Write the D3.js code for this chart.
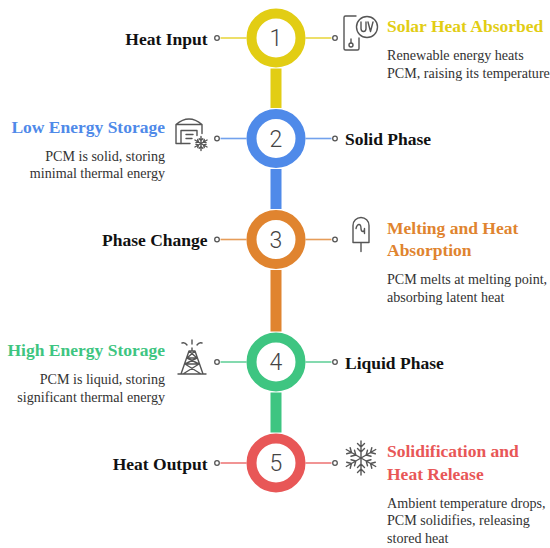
<!DOCTYPE html>
<html>
<head>
<meta charset="utf-8">
<script src="https://cdn.jsdelivr.net/npm/d3@7"></script>
<style>
  html, body { margin: 0; padding: 0; background: #fff; }
  text { font-family: "Liberation Serif", serif; }
</style>
</head>
<body>
<div class="container"></div>
<script>
const stepNumbers = [1, 2, 3, 4, 5];
const stepColors = ['#e2cd14', '#4f8ae9', '#e0842f', '#3ec581', '#e85757'];
const stepLabels = ['Heat Input', 'Solid Phase', 'Phase Change', 'Liquid Phase', 'Heat Output'];
const detailTitles = [
  ['Solar Heat Absorbed'],
  ['Low Energy Storage'],
  ['Melting and Heat', 'Absorption'],
  ['High Energy Storage'],
  ['Solidification and', 'Heat Release']
];
const detailTexts = [
  ['Renewable energy heats', 'PCM, raising its temperature'],
  ['PCM is solid, storing', 'minimal thermal energy'],
  ['PCM melts at melting point,', 'absorbing latent heat'],
  ['PCM is liquid, storing', 'significant thermal energy'],
  ['Ambient temperature drops,', 'PCM solidifies, releasing', 'stored heat']
];
const detailIcons = ['uv', 'store', 'popsicle', 'tower', 'snow'];

const width = 550;
const height = 548;
const centerX = 276;
const outerR = 29.5;
const ringW = 10;

let svg = d3
  .select('.container')
  .append('svg')
  .attr('width', width)
  .attr('height', height)
  .style('display', 'block');

let y = d3.scaleOrdinal().domain(stepNumbers).range([38, 138.5, 239.5, 362, 463]);

// connector bars between the rings
svg
  .append('g')
  .selectAll('rect')
  .data(stepNumbers.slice(0, -1))
  .enter()
  .append('rect')
  .attr('x', centerX - 5.5)
  .attr('width', 11)
  .attr('y', (d) => y(d) + outerR + 1)
  .attr('height', (d) => y(d + 1) - y(d) - 2 * outerR - 2)
  .attr('fill', (d, i) => stepColors[i]);

let iconStyle = (sel) =>
  sel.attr('fill', 'none').attr('stroke', '#555').attr('stroke-width', 1.4).attr('stroke-linecap', 'round').attr('stroke-linejoin', 'round');

function snowflake(g, cx, cy, r, branch) {
  for (let a = 0; a < 6; a++) {
    let arm = g.append('g').attr('transform', 'translate(' + cx + ',' + cy + ') rotate(' + a * 60 + ')');
    let d = 'M0 0V' + -r;
    branch.forEach((b) => {
      d += 'M' + -b[1] + ' ' + (-b[0] - b[1]) + 'L0 ' + -b[0] + 'L' + b[1] + ' ' + (-b[0] - b[1]);
    });
    iconStyle(arm.append('path').attr('d', d));
  }
}

const drawIcon = {
  uv: (g) => {
    iconStyle(g.append('path').attr('d', 'M1 -22H-9.5Q-11 -22 -11 -20.5V10.5Q-11 12 -9.5 12H2.5Q4 12 4 10.5V0'));
    iconStyle(g.append('circle').attr('cx', 12).attr('cy', -11).attr('r', 10.5));
    iconStyle(g.append('path').attr('d', 'M6 -16V-9.5Q6 -6.5 8.5 -6.5Q11 -6.5 11 -9.5V-16M13 -16L15.5 -6.5L18 -16'));
    iconStyle(g.append('circle').attr('cx', -4).attr('cy', 7).attr('r', 2));
    iconStyle(g.append('path').attr('d', 'M-4 5V1'));
  },
  store: (g) => {
    iconStyle(g.append('path').attr('d', 'M0 5H-14V-14Q-1 -25 12 -14V-5M-14 -14H12'));
    iconStyle(g.append('path').attr('d', 'M-9 5V-8H7V-3M-4 -4H3M-4 0H2'));
    snowflake(g, 11, 5, 7, [[3, 1.8]]);
  },
  popsicle: (g) => {
    iconStyle(g.append('path').attr('d', 'M-8 3V-14A8 8 0 0 1 8 -14V3ZM0 3V12'));
    iconStyle(g.append('path').attr('d', 'M-5 -11Q-4 -15 -2 -15Q0 -15 0 -11Q0 -8 2 -8Q3.5 -8 3.5 -11V-6'));
  },
  tower: (g) => {
    iconStyle(g.append('path').attr('d', 'M-14 12H14M-3 -11L-11 12M3 -11L11 12M-3 -11H3M0 -14V-11M-5 -4H5M-7 2H7M-5 -4L7 2M5 -4L-7 2M-7 2L9 12M7 2L-9 12M-3 -11L5 -4M3 -11L-5 -4'));
    iconStyle(g.append('path').attr('d', 'M0 -22V-18M-10 -19Q-7 -20 -5 -17M10 -19Q7 -20 5 -17'));
  },
  snow: (g) => {
    snowflake(g, 0, 0, 17, [[6, 3.5], [11, 3.5]]);
  }
};

stepNumbers.forEach((n, i) => {
  let cy = y(n);
  let color = stepColors[i];
  let labelLeft = i % 2 === 0;
  let row = svg.append('g').attr('class', 'step');

  // thin leaders to both sides
  [-1, 1].forEach((dir) => {
    row
      .append('line')
      .attr('x1', centerX + dir * outerR)
      .attr('x2', centerX + dir * 55.5)
      .attr('y1', cy)
      .attr('y2', cy)
      .attr('stroke', color)
      .attr('stroke-opacity', 0.8)
      .attr('stroke-width', 1.6);
    row
      .append('circle')
      .attr('cx', centerX + dir * 59)
      .attr('cy', cy)
      .attr('r', 2.3)
      .attr('fill', '#fff')
      .attr('stroke', '#555')
      .attr('stroke-width', 1.3);
  });

  // ring and number
  row
    .append('circle')
    .attr('cx', centerX)
    .attr('cy', cy)
    .attr('r', outerR - ringW / 2)
    .attr('fill', '#fff')
    .attr('stroke', color)
    .attr('stroke-width', ringW);
  row
    .append('text')
    .attr('x', centerX)
    .attr('y', cy + 8)
    .attr('text-anchor', 'middle')
    .style('font-family', 'Roboto, sans-serif')
    .style('font-size', '23px')
    .style('font-weight', 300)
    .style('fill', '#444')
    .text(n);

  // short label
  row
    .append('text')
    .attr('x', labelLeft ? 207.5 : 345)
    .attr('y', cy + 6.5)
    .attr('text-anchor', labelLeft ? 'end' : 'start')
    .style('font-size', '17.5px')
    .style('font-weight', 700)
    .style('fill', '#111')
    .text(stepLabels[i]);

  // detail block sits opposite the label
  let textX = labelLeft ? 387 : 165;
  let anchor = labelLeft ? 'start' : 'end';
  let titleY = cy - 6;
  detailTitles[i].forEach((t, k) => {
    row
      .append('text')
      .attr('x', textX)
      .attr('y', titleY + k * 22.5)
      .attr('text-anchor', anchor)
      .style('font-size', '17.5px')
      .style('font-weight', 700)
      .style('fill', color)
      .text(t);
  });
  let textY = titleY + (detailTitles[i].length - 1) * 22.5 + 28;
  detailTexts[i].forEach((t, k) => {
    row
      .append('text')
      .attr('x', textX)
      .attr('y', textY + k * 17.5)
      .attr('text-anchor', anchor)
      .style('font-size', '14.1px')
      .style('fill', '#333')
      .text(t);
  });

  let iconX = labelLeft ? 355 + (i === 2 ? 6 : i === 4 ? 6 : 0) : 190 + (i === 3 ? 2 : 0);
  let icon = row.append('g').attr('transform', 'translate(' + iconX + ',' + (i === 4 ? cy - 5 : cy) + ')');
  drawIcon[detailIcons[i]](icon);
});
</script>
</body>
</html>
